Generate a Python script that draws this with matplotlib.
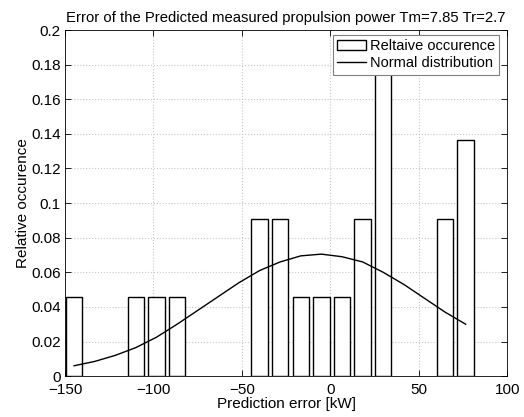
import numpy as np
import matplotlib
matplotlib.use("Agg")
import matplotlib.pyplot as plt

plt.rcParams["font.family"] = ["Liberation Sans", "DejaVu Sans"]
plt.rcParams["font.size"] = 11

# histogram bins (prediction error, kW) and relative occurrence
bin_centers = [-144.85, -109.9, -98.25, -86.6, -40.0, -28.35, -16.7, -5.05,
               6.6, 18.25, 29.9, 64.85, 76.5]
rel_occ = [0.0455, 0.0455, 0.0455, 0.0455, 0.0909, 0.0909, 0.0455, 0.0455,
           0.0455, 0.0909, 0.1818, 0.0909, 0.1364]

# normal distribution evaluated at the bin centres
norm_x = [-144.85, -133.2, -121.55, -109.9, -98.25, -86.6, -74.95, -63.3,
          -51.65, -40.0, -28.35, -16.7, -5.05, 6.6, 18.25, 29.9, 41.55,
          53.2, 64.85, 76.5]
norm_y = [0.0060, 0.0085, 0.0120, 0.0165, 0.0225, 0.0300, 0.0380, 0.0460,
          0.0540, 0.0610, 0.0660, 0.0695, 0.0705, 0.0690, 0.0660, 0.0600,
          0.0530, 0.0450, 0.0370, 0.0300]

bin_step = 11.65

fig = plt.figure(figsize=(5.24, 4.17), dpi=100)
ax = fig.add_axes([0.124, 0.098, 0.844, 0.830])

bars = ax.bar(bin_centers, rel_occ, width=0.8 * bin_step, facecolor="white",
              edgecolor="black", linewidth=1.0, zorder=2)
line, = ax.plot(norm_x, norm_y, color="black", linewidth=1.0, zorder=3)

ax.set_xlim(-150, 100)
ax.set_ylim(0, 0.2)
ax.set_xticks(np.arange(-150, 101, 50))
ax.set_yticks(np.arange(0, 0.201, 0.02))
ax.set_yticklabels(["0", "0.02", "0.04", "0.06", "0.08", "0.1", "0.12",
                    "0.14", "0.16", "0.18", "0.2"])
ax.tick_params(direction="in", top=True, right=True, length=4, width=0.6)
ax.tick_params(axis="y", pad=3)
ax.tick_params(axis="x", pad=5)
ax.grid(True, linestyle=":", color="#c8c8c8", linewidth=0.8, zorder=0)
ax.set_axisbelow(True)
for s in ax.spines.values():
    s.set_linewidth(0.6)

ax.set_xlabel("Prediction error [kW]", labelpad=0)
ax.set_ylabel("Relative occurence", labelpad=1)
ax.set_title("Error of the Predicted measured propulsion power Tm=7.85 Tr=2.7",
             fontsize=10.7, pad=6)

leg = ax.legend([bars, line], ["Reltaive occurence", "Normal distribution"],
                loc="upper right", fancybox=False, framealpha=1,
                edgecolor="#808080", borderaxespad=0.3, handlelength=2.0,
                handletextpad=0.25, borderpad=0.3, labelspacing=0.2,
                fontsize=10.5, bbox_to_anchor=(0.992, 0.998))
leg.get_frame().set_linewidth(0.8)

fig.savefig("out.png", dpi=100)
